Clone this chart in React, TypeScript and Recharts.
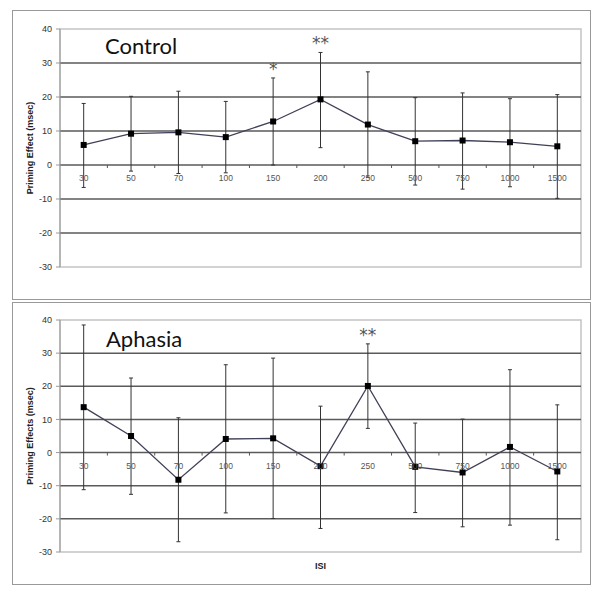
import React from 'react';
import {
  LineChart,
  Line,
  XAxis,
  YAxis,
  ErrorBar,
  ReferenceLine,
  ReferenceArea,
  LabelList,
} from 'recharts';

// ISI categories (msec) shared by both panels
const ISI = ['30', '50', '70', '100', '150', '200', '250', '500', '750', '1000', '1500'];
const Y_TICKS = [-30, -20, -10, 0, 10, 20, 30, 40];
const GRID_VALUES = [30, 20, 10, 0, -10, -20];
const Y_MIN = -30;
const Y_MAX = 40;

// Control group
const controlMean = [5.9, 9.2, 9.6, 8.2, 12.8, 19.3, 11.9, 7.0, 7.2, 6.7, 5.5];
const controlErrLow = [12.5, 11.0, 12.1, 10.5, 12.8, 14.2, 15.5, 12.9, 14.3, 13.1, 15.3];
const controlErrHigh = [12.2, 11.0, 12.1, 10.5, 12.8, 13.8, 15.5, 12.8, 14.0, 12.8, 15.2];
const controlSig = ['', '', '', '', '*', '**', '', '', '', '', ''];

// Aphasia group
const aphasiaMean = [13.7, 5.0, -8.2, 4.1, 4.3, -4.1, 20.1, -4.3, -6.0, 1.7, -5.7];
const aphasiaErrLow = [24.9, 17.6, 18.7, 22.3, 24.2, 18.8, 12.8, 13.8, 16.4, 23.6, 20.6];
const aphasiaErrHigh = [24.8, 17.5, 18.7, 22.4, 24.2, 18.1, 12.7, 13.2, 16.1, 23.3, 20.1];
const aphasiaSig = ['', '', '', '', '', '', '**', '', '', '', ''];

const FONT = '"Liberation Sans", Arial, sans-serif';

function buildRows(mean: number[], lo: number[], hi: number[], sig: string[]) {
  return ISI.map((isi, i) => ({
    isi,
    mean: mean[i],
    err: [lo[i], hi[i]],
    top: mean[i] + hi[i],
    sig: sig[i],
  }));
}

// x tick drawn on the zero line instead of the bottom of the plot
function ZeroTick(props: any) {
  const { x, y, payload, shift, band, index } = props;
  const y0 = y - shift;
  return (
    <g>
      {index > 0 && (
        <line x1={x - band / 2} x2={x - band / 2} y1={y0} y2={y0 + 3} stroke="#555" />
      )}
      <text x={x} y={y0 + 16} textAnchor="middle" fontSize={8.5} fill="#555" fontFamily={FONT}>
        {payload.value}
      </text>
    </g>
  );
}

function Square(props: any) {
  const { cx, cy, index } = props;
  if (cx == null || cy == null) return <g key={index} />;
  return <rect key={index} x={cx - 3} y={cy - 3} width={6} height={6} fill="#000" />;
}

interface PanelProps {
  rows: any[];
  width: number;
  height: number;
  top: number;
  xAxisHeight: number;
  yLabel: string;
  xLabel?: string;
}

function Panel({ rows, width, height, top, xAxisHeight, yLabel, xLabel }: PanelProps) {
  const margin = { top, right: 19, bottom: 0, left: 0 };
  const plotH = height - top - xAxisHeight;
  const plotW = width - 60 - margin.right;
  const band = plotW / ISI.length;
  const shift = (plotH * (0 - Y_MIN)) / (Y_MAX - Y_MIN);

  return (
    <LineChart width={width} height={height} data={rows} margin={margin}>
      <ReferenceArea y1={Y_MIN} y2={Y_MAX} fill="none" stroke="#c4c4c4" strokeWidth={1.5} />
      {GRID_VALUES.map((v) => (
        <ReferenceLine key={v} y={v} stroke="#5a5a5a" strokeWidth={1.5} />
      ))}
      <XAxis
        dataKey="isi"
        scale="band"
        interval={0}
        height={xAxisHeight}
        axisLine={false}
        tickLine={false}
        tickSize={0}
        tickMargin={0}
        tick={(p: any) => <ZeroTick key={p.index} {...p} shift={shift} band={band} />}
        label={
          xLabel
            ? { value: xLabel, position: 'insideTop', offset: 11, fontSize: 9, fontWeight: 'bold', fill: '#222', fontFamily: FONT }
            : undefined
        }
      />
      <YAxis
        width={60}
        domain={[Y_MIN, Y_MAX]}
        ticks={Y_TICKS}
        interval={0}
        axisLine={{ stroke: '#999' }}
        tickLine={{ stroke: '#999' }}
        tickSize={4}
        tickMargin={4}
        tick={{ fontSize: 9, fill: '#333', fontFamily: FONT }}
        label={{
          value: yLabel,
          angle: -90,
          position: 'center',
          fontSize: 9,
          fontWeight: 'bold',
          fill: '#222',
          fontFamily: FONT,
        }}
      />
      <Line
        dataKey="top"
        stroke="none"
        dot={false}
        activeDot={false}
        isAnimationActive={false}
      >
        <LabelList dataKey="sig" position="top" offset={3} fontSize={17} fill="#555" fontFamily='"DejaVu Sans", sans-serif' />
      </Line>
      <Line
        dataKey="mean"
        stroke="#404058"
        strokeWidth={1.3}
        dot={Square}
        activeDot={false}
        isAnimationActive={false}
      >
        <ErrorBar dataKey="err" direction="y" width={2} stroke="#333" strokeWidth={1} isAnimationActive={false} />
      </Line>
    </LineChart>
  );
}

const titleStyle: React.CSSProperties = {
  position: 'absolute',
  fontFamily: 'Lato, "Open Sans", sans-serif',
  fontSize: 22,
  lineHeight: '22px',
  color: '#111',
};

export default function App() {
  const controlRows = buildRows(controlMean, controlErrLow, controlErrHigh, controlSig);
  const aphasiaRows = buildRows(aphasiaMean, aphasiaErrLow, aphasiaErrHigh, aphasiaSig);

  return (
    <div style={{ position: 'absolute', left: 0, top: 0, width: 600, height: 595, background: '#fff' }}>
      <div style={{ position: 'absolute', left: 12, top: 10, width: 579, height: 290, border: '1.5px solid #999', boxSizing: 'border-box' }} />
      <div style={{ position: 'absolute', left: 12, top: 302, width: 579, height: 283, border: '1.5px solid #999', boxSizing: 'border-box' }} />
      <div style={{ position: 'absolute', left: 0, top: 0 }}>
        <Panel rows={controlRows} width={600} height={300} top={29} xAxisHeight={33} yLabel="Priming Effect (msec)" />
      </div>
      <div style={{ position: 'absolute', left: 0, top: 300 }}>
        <Panel rows={aphasiaRows} width={600} height={295} top={20} xAxisHeight={43} yLabel="Priming Effects (msec)" xLabel="ISI" />
      </div>
      <div style={{ ...titleStyle, left: 105, top: 35 }}>Control</div>
      <div style={{ ...titleStyle, left: 106, top: 328 }}>Aphasia</div>
    </div>
  );
}
